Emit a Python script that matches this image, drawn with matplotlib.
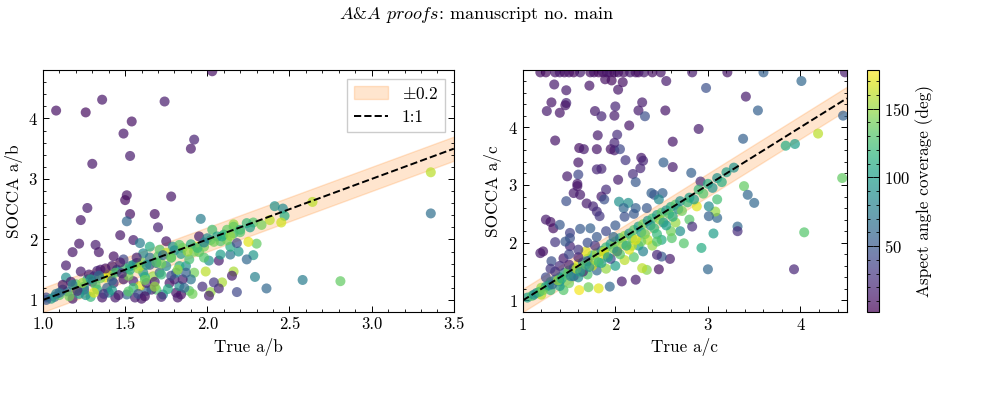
import numpy as np
import matplotlib
matplotlib.use("Agg")
import matplotlib.pyplot as plt
from matplotlib.ticker import MultipleLocator, FormatStrFormatter

plt.rcParams['font.family'] = ['cmr10', 'DejaVu Serif']
plt.rcParams['mathtext.fontset'] = 'cm'
plt.rcParams['axes.formatter.use_mathtext'] = True
plt.rcParams['axes.unicode_minus'] = False

# ---- data: true ratio, SOCCA ratio, aspect angle coverage (deg)
ab_true = [1.08, 1.26, 1.36, 1.74, 2.03, 1.54, 1.49, 1.92, 1.90, 1.53,
           1.30, 1.27, 1.51, 1.50, 1.78, 1.23, 1.53, 1.51, 1.68, 1.70,
           1.47, 1.22, 1.32, 1.18, 1.34, 1.14, 1.55, 1.59, 1.96, 1.43,
           3.36, 3.36, 2.64, 2.81, 2.58, 2.36, 2.29, 2.18, 2.28, 2.24,
           2.30, 2.41, 2.46, 2.47, 2.45, 2.38, 2.28, 2.16, 2.24, 2.25,
           2.16, 2.15, 2.09, 2.02, 2.01, 2.07, 2.04, 1.99, 2.07, 2.01,
           2.14, 2.19, 2.14, 2.18, 2.08, 2.03, 2.12, 2.16, 1.95, 1.93,
           1.95, 1.92, 1.90, 1.89, 1.84, 1.81, 1.83, 1.85, 1.80, 1.77,
           1.73, 1.69, 1.66, 1.63, 1.60, 1.56, 1.51, 1.44, 1.36, 1.29,
           1.18, 1.07, 1.02, 1.75, 1.69, 1.71, 1.75, 1.79, 1.83, 1.65,
           1.61, 1.57, 1.53, 1.49, 1.45, 1.41, 1.38, 1.35, 1.31, 1.27,
           1.23, 1.20, 1.14, 1.12, 1.25, 1.33, 1.39, 1.43, 1.49, 1.55,
           1.59, 1.63, 1.67, 1.71, 1.61, 1.65, 1.59, 1.87, 1.89, 1.83,
           1.81, 1.87, 1.98, 2.02, 2.06, 2.12, 2.16, 2.20, 1.05, 1.10,
           1.15, 1.20, 1.25, 1.30, 1.35, 1.40, 1.45, 1.50, 1.55, 1.60,
           1.65, 1.70, 1.75, 1.80, 1.85, 1.90, 2.00, 2.10, 1.28, 1.33,
           1.38, 1.42, 1.47, 1.57, 1.12, 1.17, 1.22, 1.32, 1.42, 1.52,
           1.62, 1.72, 1.78, 1.92, 1.08, 1.02, 1.40, 1.55, 1.68, 1.78,
           1.10, 1.16, 1.21, 1.26, 1.31, 1.37, 1.42, 1.46, 1.52, 1.58,
           1.62, 1.68, 1.72, 1.76, 1.82, 1.86, 1.91, 1.97, 1.18, 1.24,
           1.29, 1.34, 1.44, 1.48, 1.53, 1.58, 1.63, 1.69, 1.73, 1.78,
           1.84, 1.88, 1.94, 1.98, 2.04, 2.09, 2.14, 2.20, 2.26, 2.33,
           1.62, 1.72, 1.82, 1.98, 2.08]
ab_socca = [4.13, 4.10, 4.31, 4.28, 4.78, 3.95, 3.75, 3.65, 3.50, 3.38,
            3.25, 2.52, 2.73, 2.65, 2.71, 2.32, 2.42, 2.30, 2.42, 2.20,
            2.07, 1.93, 1.91, 1.79, 1.79, 1.57, 1.99, 1.94, 2.34, 1.72,
            3.11, 2.43, 2.62, 1.31, 1.33, 1.19, 1.38, 1.13, 1.74, 1.67,
            1.93, 2.55, 2.51, 2.39, 2.28, 2.32, 2.28, 2.25, 2.27, 1.96,
            1.47, 1.40, 1.29, 1.13, 1.07, 1.19, 1.29, 1.47, 1.65, 1.65,
            1.75, 1.80, 1.88, 1.94, 1.97, 2.16, 2.16, 2.10, 2.05, 1.88,
            1.79, 1.45, 1.34, 1.15, 1.09, 1.12, 1.23, 1.34, 1.34, 1.28,
            1.09, 1.17, 1.17, 1.15, 1.02, 1.04, 1.09, 1.04, 1.04, 1.05,
            1.02, 1.05, 1.04, 1.56, 1.61, 1.83, 1.97, 1.88, 1.91, 1.88,
            1.77, 1.61, 1.56, 1.67, 1.50, 1.39, 1.37, 1.50, 1.39, 1.34,
            1.47, 1.26, 1.37, 1.17, 1.17, 1.17, 1.20, 1.28, 1.34, 1.31,
            1.23, 1.28, 1.39, 1.45, 1.45, 1.58, 1.56, 1.56, 1.67, 1.56,
            1.45, 1.45, 1.88, 1.99, 2.05, 1.99, 2.21, 2.16, 1.02, 1.08,
            1.14, 1.18, 1.22, 1.30, 1.36, 1.42, 1.48, 1.52, 1.58, 1.62,
            1.70, 1.72, 1.78, 1.82, 1.86, 1.92, 2.02, 2.08, 1.42, 1.48,
            1.52, 1.56, 1.62, 1.70, 1.25, 1.30, 1.10, 1.25, 1.32, 1.40,
            1.38, 1.60, 1.70, 1.80, 1.10, 1.00, 1.12, 1.20, 1.30, 1.40,
            1.12, 1.06, 1.15, 1.08, 1.12, 1.10, 1.16, 1.08, 1.14, 1.10,
            1.06, 1.22, 1.05, 1.18, 1.04, 1.20, 1.10, 1.22, 1.25, 1.28,
            1.34, 1.40, 1.45, 1.44, 1.50, 1.52, 1.58, 1.62, 1.74, 1.70,
            1.76, 1.80, 1.86, 1.95, 1.96, 2.05, 2.06, 2.12, 2.20, 2.24,
            1.33, 1.42, 1.50, 1.70, 1.75]
ab_cov = [10, 8, 12, 15, 10, 10, 12, 18, 12, 15,
          12, 14, 10, 8, 12, 12, 10, 60, 10, 18,
          12, 12, 14, 12, 12, 14, 15, 75, 75, 10,
          160, 65, 160, 135, 75, 60, 80, 40, 95, 60,
          135, 90, 85, 110, 165, 160, 130, 150, 120, 170,
          155, 15, 155, 150, 15, 20, 30, 160, 15, 90,
          70, 95, 110, 40, 130, 125, 135, 120, 15, 170,
          135, 140, 70, 130, 10, 12, 90, 15, 20, 12,
          80, 130, 20, 60, 12, 15, 60, 15, 12, 120,
          15, 60, 40, 85, 55, 130, 12, 90, 130, 110,
          85, 15, 80, 40, 55, 15, 170, 12, 40, 100,
          15, 130, 90, 70, 30, 110, 55, 25, 15, 18,
          170, 20, 150, 60, 90, 50, 175, 90, 125, 110,
          85, 55, 140, 130, 100, 140, 135, 110, 100, 130,
          60, 150, 90, 20, 140, 170, 80, 120, 100, 140,
          70, 130, 160, 90, 140, 110, 85, 120, 15, 18,
          10, 12, 14, 20, 12, 15, 100, 130, 60, 140,
          110, 140, 120, 140, 80, 50, 75, 120, 15, 40,
          60, 140, 20, 90, 170, 30, 100, 15, 130, 45,
          10, 150, 20, 110, 12, 60, 140, 25, 80, 150,
          100, 60, 130, 20, 110, 150, 90, 130, 60, 140,
          100, 150, 120, 80, 140, 110, 150, 130, 100, 140,
          140, 120, 150, 130, 100]

ac_true = [1.19, 1.25, 1.35, 1.40, 1.45, 1.50, 1.55, 1.62, 1.73, 1.77,
           1.82, 1.87, 1.91, 1.94, 1.99, 2.03, 2.09, 2.16, 2.22, 2.25,
           2.31, 2.40, 2.49, 2.83, 3.21, 3.60, 4.48,
           1.34, 1.47, 1.72, 1.89, 1.96, 2.03, 2.08, 2.55, 2.98, 4.01,
           1.31, 1.47, 1.46, 1.26, 1.40, 1.78, 1.85, 2.00, 1.99, 2.29,
           2.25, 2.32, 2.54, 2.15, 2.90, 3.41, 3.54, 3.38, 1.35, 1.81,
           2.02, 2.62, 1.61, 1.66, 1.80, 1.95, 1.99, 2.05, 1.99, 2.11,
           2.28, 2.30, 2.52, 2.62, 1.60, 1.80, 1.85, 2.27, 2.19, 2.03,
           2.22, 1.48, 1.60, 1.59, 1.59, 1.55, 1.62, 1.90, 1.85, 1.88,
           1.69, 1.76, 1.47, 1.80, 1.83, 2.82, 2.92, 3.39, 3.43, 3.50,
           3.84, 3.94, 4.19, 4.46, 4.45, 4.04, 3.93, 3.00, 2.93, 3.32,
           3.32, 3.06, 3.10, 3.10, 3.08, 3.01, 3.01, 2.88, 2.80, 2.83,
           2.70, 2.74, 2.61, 2.59, 2.50, 2.47, 2.45, 2.34, 2.29, 2.22,
           2.07, 1.94, 1.82, 1.71, 1.61, 1.44, 1.40, 2.39, 2.42, 2.51,
           2.47, 2.04, 2.14, 2.09, 2.22, 2.34, 1.25, 1.30, 1.33, 1.40,
           1.51, 1.62, 1.73, 1.19, 1.22, 1.31, 1.44, 1.51, 1.35, 1.51,
           1.46,
           1.05, 1.10, 1.15, 1.20, 1.25, 1.30, 1.35, 1.40, 1.45, 1.50,
           1.55, 1.60, 1.65, 1.70, 1.75, 1.80, 1.85, 1.90, 1.95, 2.00,
           2.05, 2.10, 2.15, 2.20, 2.25, 2.30, 2.35, 2.40, 2.45, 2.50,
           2.55, 2.60, 2.65, 2.70, 2.80, 2.90, 3.00, 3.10, 3.20, 3.28,
           1.20, 1.30, 1.40, 1.50, 1.60, 1.70, 1.80, 1.90, 2.00, 2.10,
           2.20, 2.30, 2.40, 2.50, 2.60, 1.55, 1.65, 1.75, 1.85, 1.95,
           2.05, 2.15, 2.25, 2.35, 2.45, 2.55, 2.65, 1.68, 1.88, 2.02,
           2.18, 2.28, 2.45, 1.50, 1.60, 1.70, 1.35, 1.25, 1.78, 1.98,
           1.30, 1.40, 1.50, 1.60, 1.70, 1.80, 1.90, 2.00, 2.10, 2.20,
           1.12, 1.18, 1.22, 1.28, 1.32, 1.38, 1.42, 1.48, 1.52, 1.58,
           1.62, 1.68, 1.72, 1.78, 1.82, 1.88, 1.92, 1.98, 2.02, 2.08,
           2.12, 2.18, 2.22, 2.28, 2.32, 2.38, 2.42, 2.48, 2.52, 2.58,
           2.62, 2.68, 2.72, 2.78, 2.85, 2.95, 3.05, 3.15]
ac_socca = [4.95, 4.95, 4.95, 4.95, 4.95, 4.95, 4.95, 4.95, 4.95, 4.95,
            4.95, 4.95, 4.95, 4.95, 4.95, 4.95, 4.95, 4.95, 4.95, 4.95,
            4.95, 4.95, 4.95, 4.95, 4.95, 4.95, 4.95,
            4.74, 4.64, 4.72, 4.83, 4.81, 4.65, 4.78, 4.80, 4.68, 4.80,
            4.43, 4.42, 4.38, 4.28, 4.25, 4.28, 4.19, 4.36, 4.20, 4.43,
            4.29, 4.19, 4.29, 4.03, 3.97, 4.53, 4.29, 3.80, 3.77, 3.86,
            3.87, 3.75, 3.64, 3.62, 3.62, 3.62, 3.60, 3.62, 3.73, 3.43,
            3.47, 3.42, 3.39, 3.31, 3.39, 3.27, 3.28, 3.29, 3.19, 3.09,
            3.05, 3.15, 3.18, 3.02, 2.98, 2.86, 2.83, 2.92, 2.80, 2.75,
            2.68, 2.63, 2.72, 2.54, 2.46, 3.21, 3.06, 2.98, 2.83, 2.69,
            3.68, 3.71, 3.89, 4.20, 3.12, 2.18, 1.54, 1.54, 1.91, 2.28,
            2.20, 2.16, 2.43, 2.75, 2.54, 2.46, 2.63, 2.63, 2.40, 2.28,
            2.20, 1.99, 2.08, 1.72, 1.76, 1.54, 1.79, 1.53, 1.56, 1.36,
            1.33, 1.24, 1.21, 1.23, 1.18, 1.18, 1.33, 2.86, 2.83, 2.86,
            2.75, 2.71, 2.69, 2.60, 2.60, 2.60, 2.40, 2.36, 2.25, 2.31,
            2.17, 2.24, 2.25, 1.82, 1.85, 1.68, 1.73, 1.94, 2.01, 2.08,
            2.02,
            1.05, 1.08, 1.13, 1.22, 1.24, 1.32, 1.36, 1.40, 1.48, 1.52,
            1.56, 1.63, 1.66, 1.72, 1.78, 1.82, 1.86, 1.92, 1.98, 2.02,
            2.08, 2.12, 2.16, 2.22, 2.28, 2.32, 2.38, 2.42, 2.48, 2.52,
            2.56, 2.62, 2.66, 2.72, 2.78, 2.92, 3.02, 3.12, 3.22, 3.30,
            1.10, 1.18, 1.25, 1.30, 1.40, 1.45, 1.52, 1.55, 1.60, 1.70,
            1.75, 1.85, 1.95, 2.05, 2.20, 1.42, 1.50, 1.60, 1.65, 1.72,
            1.80, 1.88, 1.95, 2.05, 2.15, 2.30, 2.35, 1.85, 1.85, 1.85,
            1.95, 2.02, 2.02, 1.62, 1.75, 1.68, 1.50, 1.40, 1.95, 2.10,
            1.55, 1.60, 1.80, 1.88, 2.00, 2.10, 2.20, 2.30, 2.45, 2.50,
            1.10, 1.15, 1.18, 1.26, 1.28, 1.35, 1.38, 1.45, 1.42, 1.55,
            1.50, 1.62, 1.58, 1.70, 1.66, 1.80, 1.75, 1.90, 1.85, 1.98,
            1.95, 2.08, 2.05, 2.18, 2.15, 2.30, 2.25, 2.40, 2.35, 2.50,
            2.45, 2.58, 2.55, 2.70, 2.75, 2.85, 2.95, 3.05]
ac_cov = [10, 8, 12, 15, 10, 12, 8, 15, 10, 12,
          8, 12, 10, 15, 8, 12, 10, 15, 12, 10,
          15, 10, 12, 15, 12, 55, 15,
          15, 15, 12, 10, 8, 12, 10, 15, 45, 60,
          12, 20, 12, 15, 12, 15, 20, 20, 15, 15,
          15, 45, 12, 12, 15, 15, 55, 55, 12, 15,
          25, 12, 10, 15, 12, 10, 15, 40, 20, 30,
          15, 20, 55, 15, 12, 20, 20, 20, 25, 15,
          50, 15, 40, 15, 12, 15, 15, 25, 15, 45,
          15, 20, 45, 25, 30, 55, 25, 135, 60, 60,
          110, 100, 160, 55, 135, 130, 20, 60, 110, 60,
          25, 100, 60, 125, 150, 55, 85, 170, 130, 25,
          90, 130, 130, 15, 50, 10, 20, 145, 160, 15,
          15, 60, 170, 140, 175, 130, 90, 55, 50, 55,
          85, 90, 90, 60, 55, 50, 15, 12, 10, 50,
          35, 50, 55, 15, 12, 45, 15, 20, 30, 45,
          50,
          100, 130, 80, 150, 100, 140, 60, 120, 90, 140,
          100, 170, 80, 130, 110, 150, 90, 120, 100, 140,
          110, 150, 90, 130, 100, 140, 90, 120, 100, 130,
          90, 110, 130, 90, 100, 120, 110, 90, 100, 90,
          160, 120, 100, 140, 90, 130, 60, 150, 100, 160,
          130, 80, 150, 110, 140, 60, 20, 170, 100, 40,
          130, 170, 100, 160, 120, 100, 150, 170, 160, 170,
          160, 140, 130, 20, 15, 40, 30, 40, 25, 60,
          30, 25, 40, 30, 45, 50, 40, 50, 45, 50,
          90, 120, 140, 100, 60, 150, 110, 130, 80, 160,
          100, 130, 90, 150, 120, 170, 100, 140, 80, 150,
          110, 130, 170, 100, 140, 90, 120, 150, 100, 130,
          110, 90, 140, 120, 100, 130, 90, 110]

assert len(ab_true) == len(ab_socca) == len(ab_cov)
assert len(ac_true) == len(ac_socca) == len(ac_cov)

band = 0.2
vmin, vmax = 2, 178
fs_tick, fs_lab = 12, 12.4

fig = plt.figure(figsize=(10.02, 3.98), dpi=100)
ax1 = fig.add_axes([0.0429, 0.216, 0.410, 0.608])
ax2 = fig.add_axes([0.5217, 0.216, 0.3234, 0.608])
cax = fig.add_axes([0.865, 0.216, 0.0123, 0.608])


def panel(ax, xt, ys, cc, xlim, ylim, name, legend=False):
    xx = np.linspace(xlim[0], xlim[1], 50)
    ax.fill_between(xx, xx - band, xx + band, color='tab:orange', alpha=0.2,
                    lw=1, label=r'$\pm0.2$')
    sc = ax.scatter(xt, ys, c=cc, cmap='viridis', vmin=vmin, vmax=vmax,
                    s=52, alpha=0.7, edgecolors='none', zorder=2)
    ax.plot(xx, xx, 'k--', lw=1.4, label='1:1', zorder=3)
    ax.set_xlim(*xlim)
    ax.set_ylim(*ylim)
    ax.set_xlabel('True ' + name, fontsize=fs_lab)
    ax.set_ylabel('SOCCA ' + name, fontsize=fs_lab)
    ax.tick_params(which='both', direction='in', top=True, right=True,
                   labelsize=fs_tick)
    ax.tick_params(which='major', length=4, width=0.7)
    ax.tick_params(which='minor', length=2, width=0.6)
    for s in ax.spines.values():
        s.set_linewidth(0.8)
    if legend:
        ax.legend(loc='upper right', fontsize=fs_lab, fancybox=False,
                  edgecolor='0.8', framealpha=1, handlelength=2.0)
    return sc


panel(ax1, ab_true, ab_socca, ab_cov, (1.0, 3.5), (0.8, 4.8), 'a/b', legend=True)
ax1.xaxis.set_major_locator(MultipleLocator(0.5))
ax1.xaxis.set_minor_locator(MultipleLocator(0.1))
ax1.xaxis.set_major_formatter(FormatStrFormatter('%.1f'))
ax1.yaxis.set_major_locator(MultipleLocator(1))
ax1.yaxis.set_minor_locator(MultipleLocator(0.2))

sc = panel(ax2, ac_true, ac_socca, ac_cov, (1.0, 4.5), (0.8, 4.99), 'a/c')
ax2.xaxis.set_major_locator(MultipleLocator(1))
ax2.xaxis.set_minor_locator(MultipleLocator(0.2))
ax2.yaxis.set_major_locator(MultipleLocator(1))
ax2.yaxis.set_minor_locator(MultipleLocator(0.2))

cb = fig.colorbar(sc, cax=cax)
cb.solids.set_alpha(0.7)
cb.set_ticks([50, 100, 150])
cb.ax.yaxis.set_minor_locator(MultipleLocator(10))
cb.ax.tick_params(which='both', direction='in', left=True, right=True,
                  labelsize=fs_tick)
cb.ax.tick_params(which='major', length=4, width=0.7)
cb.ax.tick_params(which='minor', length=2, width=0.6)
cb.outline.set_linewidth(0.8)
cb.set_label('Aspect angle coverage (deg)', fontsize=fs_lab)

fig.text(0.476, 0.962, r'$A$&$A$ $proofs$: manuscript no. main',
         ha='center', va='center', fontsize=13)

fig.savefig('out.png', dpi=100)
